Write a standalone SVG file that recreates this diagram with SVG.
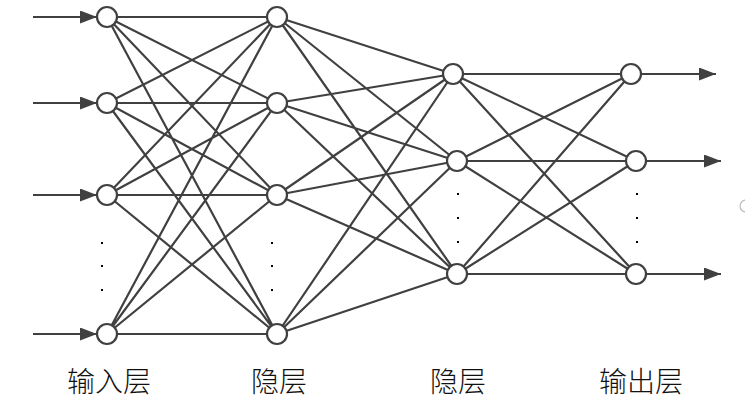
<svg xmlns="http://www.w3.org/2000/svg" width="745" height="405" viewBox="0 0 745 405">
<defs>
<style>
.c{stroke:#404040;stroke-width:2.2;fill:none}
.n{stroke:#404040;stroke-width:2.2;fill:#fff}
.d{fill:#000}
.t{font-family:"Noto Sans CJK SC","Liberation Serif",serif;font-size:28px;font-weight:300;fill:#111;text-anchor:middle}
</style>
<marker id="ah" viewBox="0 0 17 13" refX="17" refY="6.5" markerWidth="17" markerHeight="13" markerUnits="userSpaceOnUse" orient="auto">
<path d="M0,0 L17,6.5 L0,13 Z" fill="#404040"/>
</marker>
</defs>
<rect width="745" height="405" fill="#fff"/>
<g id="connectors">
<line class="c" x1="33" y1="17" x2="97" y2="17" marker-end="url(#ah)"/>
<line class="c" x1="33" y1="103" x2="97" y2="103" marker-end="url(#ah)"/>
<line class="c" x1="33" y1="195" x2="97" y2="195" marker-end="url(#ah)"/>
<line class="c" x1="33" y1="334" x2="97" y2="334" marker-end="url(#ah)"/>
<path class="c" d="M107,17L277,17M107,17L277,103M107,17L277,195M107,17L277,334
M107,103L277,17M107,103L277,103M107,103L277,195M107,103L277,334
M107,195L277,17M107,195L277,103M107,195L277,195M107,195L277,334
M107,334L277,17M107,334L277,103M107,334L277,195M107,334L277,334"/>
<path class="c" d="M277,17L453,74M277,17L457,161M277,17L457,274
M277,103L453,74M277,103L457,161M277,103L457,274
M277,195L453,74M277,195L457,161M277,195L457,274
M277,334L453,74M277,334L457,161M277,334L457,274"/>
<path class="c" d="M453,74L631,74M453,74L636,161M453,74L636,274
M457,161L631,74M457,161L636,161M457,161L636,274
M457,274L631,74M457,274L636,161M457,274L636,274"/>
<line class="c" x1="641" y1="74" x2="716" y2="74" marker-end="url(#ah)"/>
<line class="c" x1="646" y1="161" x2="721" y2="161" marker-end="url(#ah)"/>
<line class="c" x1="646" y1="274" x2="721" y2="274" marker-end="url(#ah)"/>
</g>
<g id="layer-input">
<circle id="in1" class="n" cx="107" cy="17" r="10"/>
<circle id="in2" class="n" cx="107" cy="103" r="10"/>
<circle id="in3" class="n" cx="107" cy="195" r="10"/>
<circle id="in4" class="n" cx="107" cy="334" r="10"/>
<g class="d"><rect x="101" y="242" width="2" height="2"/><rect x="101" y="265" width="2" height="2"/><rect x="101" y="289" width="2" height="2"/></g>
</g>
<g id="layer-hidden1">
<circle id="h1a" class="n" cx="277" cy="17" r="10"/>
<circle id="h1b" class="n" cx="277" cy="103" r="10"/>
<circle id="h1c" class="n" cx="277" cy="195" r="10"/>
<circle id="h1d" class="n" cx="277" cy="334" r="10"/>
<g class="d"><rect x="271" y="242" width="2" height="2"/><rect x="271" y="265" width="2" height="2"/><rect x="271" y="289" width="2" height="2"/></g>
</g>
<g id="layer-hidden2">
<circle id="h2a" class="n" cx="453" cy="74" r="10"/>
<circle id="h2b" class="n" cx="457" cy="161" r="10"/>
<circle id="h2c" class="n" cx="457" cy="274" r="10"/>
<g class="d"><rect x="457" y="193" width="2" height="2"/><rect x="457" y="217" width="2" height="2"/><rect x="457" y="241" width="2" height="2"/></g>
</g>
<g id="layer-output">
<circle id="o1" class="n" cx="631" cy="74" r="10"/>
<circle id="o2" class="n" cx="636" cy="161" r="10"/>
<circle id="o3" class="n" cx="636" cy="274" r="10"/>
<g class="d"><rect x="636" y="193" width="2" height="2"/><rect x="636" y="217" width="2" height="2"/><rect x="636" y="241" width="2" height="2"/></g>
</g>
<circle cx="746" cy="206" r="6" fill="none" stroke="#bbb" stroke-width="1.2"/>
<g id="labels">
<text class="t" x="109" y="392">输入层</text>
<text class="t" x="279" y="392">隐层</text>
<text class="t" x="458" y="392">隐层</text>
<text class="t" x="641" y="392">输出层</text>
</g>
</svg>
